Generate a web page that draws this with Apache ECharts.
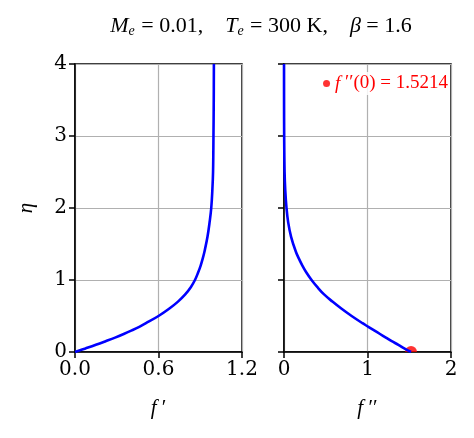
<!DOCTYPE html>
<html>
<head>
<meta charset="utf-8">
<script src="https://cdn.jsdelivr.net/npm/echarts@6/dist/echarts.min.js"></script>
<style>
  html, body { margin: 0; padding: 0; background: #fff; }
  #chart { width: 474px; height: 438px; }
</style>
</head>
<body>
<div id="chart"></div>
<script>
// similarity variable
const eta = [0, 0.05, 0.1, 0.15, 0.2, 0.25, 0.3, 0.35, 0.4, 0.5, 0.6, 0.7, 0.8, 0.9, 1.0,
  1.1, 1.2, 1.3, 1.4, 1.6, 1.8, 2.0, 2.25, 2.5, 3.0, 3.5, 4.0]
// f' (velocity profile)
const fp = [0, 0.076, 0.15, 0.22, 0.288, 0.35, 0.408, 0.462, 0.51, 0.6, 0.676, 0.74, 0.792, 0.832, 0.862,
  0.884, 0.903, 0.918, 0.931, 0.952, 0.967, 0.979, 0.987, 0.992, 0.995, 0.997, 0.998]
// f'' (shear profile)
const fpp = [1.5214, 1.44, 1.37, 1.29, 1.22, 1.15, 1.08, 1.01, 0.94, 0.81, 0.69, 0.58, 0.48, 0.40, 0.33,
  0.27, 0.22, 0.177, 0.14, 0.085, 0.05, 0.03, 0.015, 0.007, 0.002, 0.0005, 0.0001]
const wallShear = 1.5214
const etaTicks = [0, 1, 2, 3, 4]

const chart = echarts.init(document.getElementById('chart'))

const tickFont = { fontFamily: 'DejaVu Serif', fontSize: 20, color: '#000' }
const mathFont = 'Liberation Serif'

// 数学字体样式
const mi = (size, color) => ({ fontFamily: mathFont, fontStyle: 'italic', fontWeight: 'normal', fontSize: size, color: color || '#000' })
const mn = (size, color) => ({ fontFamily: mathFont, fontStyle: 'normal', fontWeight: 'normal', fontSize: size, color: color || '#000' })

const gridLine = { show: true, lineStyle: { color: '#b0b0b0', width: 1.2 } }
const spine = { show: true, onZero: false, lineStyle: { color: '#000', width: 1.5 } }
const ticks = { show: true, length: 6, inside: false, lineStyle: { color: '#000', width: 1.5 } }

const option = {
  animation: false,
  title: {
    left: 256,
    top: 9,
    textAlign: 'center',
    text: '{i|M}{s|e}{n| = 0.01,    }{i|T}{s|e}{n| = 300 K,    }{i|β}{n| = 1.6}',
    textStyle: {
      fontWeight: 'normal',
      rich: {
        i: mi(22),
        s: Object.assign(mi(14), { padding: [10, 1, 0, 0] }),
        n: mn(22)
      }
    }
  },
  grid: [
    { left: 75, top: 64, width: 167, height: 288, show: true, borderColor: '#000', borderWidth: 1.5 },
    { left: 284, top: 64, width: 167, height: 288, show: true, borderColor: '#000', borderWidth: 1.5 }
  ],
  xAxis: [
    {
      gridIndex: 0, type: 'value', min: 0, max: 1.2, interval: 0.6,
      name: "{i|f}{n| ′}", nameLocation: 'middle', nameGap: 46,
      nameTextStyle: { rich: { i: mi(21), n: mn(21) } },
      axisLine: spine, axisTick: ticks, splitLine: gridLine,
      axisLabel: Object.assign({ margin: 8, formatter: v => v.toFixed(1) }, tickFont)
    },
    {
      gridIndex: 1, type: 'value', min: 0, max: 2, interval: 1,
      name: "{i|f}{n| ′′}", nameLocation: 'middle', nameGap: 46,
      nameTextStyle: { rich: { i: mi(21), n: mn(21) } },
      axisLine: spine, axisTick: ticks, splitLine: gridLine,
      axisLabel: Object.assign({ margin: 8 }, tickFont)
    }
  ],
  yAxis: [
    {
      gridIndex: 0, type: 'value', min: etaTicks[0], max: etaTicks[etaTicks.length - 1], interval: 1,
      name: 'η', nameLocation: 'middle', nameGap: 38, nameRotate: 90,
      nameTextStyle: mi(21),
      axisLine: spine, axisTick: ticks, splitLine: gridLine,
      axisLabel: Object.assign({ margin: 8 }, tickFont)
    },
    {
      gridIndex: 1, type: 'value', min: etaTicks[0], max: etaTicks[etaTicks.length - 1], interval: 1,
      axisLine: spine, axisTick: ticks, splitLine: gridLine,
      axisLabel: { show: false }
    }
  ],
  legend: {
    right: 24, top: 72,
    data: ['wall'],
    icon: 'circle', itemWidth: 7, itemHeight: 7, itemGap: 8,
    backgroundColor: 'rgba(255,255,255,0.85)',
    padding: [2, 2, 2, 4],
    formatter: () => '{i|f}{n| ′′(0) = ' + wallShear.toFixed(4) + '}',
    textStyle: { rich: { i: mi(19, '#ff0000'), n: mn(19, '#ff0000') } }
  },
  series: [
    {
      type: 'line', xAxisIndex: 0, yAxisIndex: 0, showSymbol: false, smooth: 0.4,
      data: eta.map((e, i) => [fp[i], e]),
      lineStyle: { color: '#0000ff', width: 2.6 }
    },
    {
      type: 'line', xAxisIndex: 1, yAxisIndex: 1, showSymbol: false, smooth: 0.4,
      data: eta.map((e, i) => [fpp[i], e]),
      lineStyle: { color: '#0000ff', width: 2.6 }
    },
    {
      // 壁面点：坐标轴裁剪掉下半圆
      name: 'wall', type: 'scatter', xAxisIndex: 1, yAxisIndex: 1,
      symbol: 'path://M0,10 A10,10 0 0 1 20,10 Z', symbolKeepAspect: false,
      symbolSize: [12, 6], symbolOffset: [0, -3],
      itemStyle: { color: '#ff0000' },
      data: [[wallShear, 0]]
    }
  ]
}

chart.setOption(option)
</script>
</body>
</html>
